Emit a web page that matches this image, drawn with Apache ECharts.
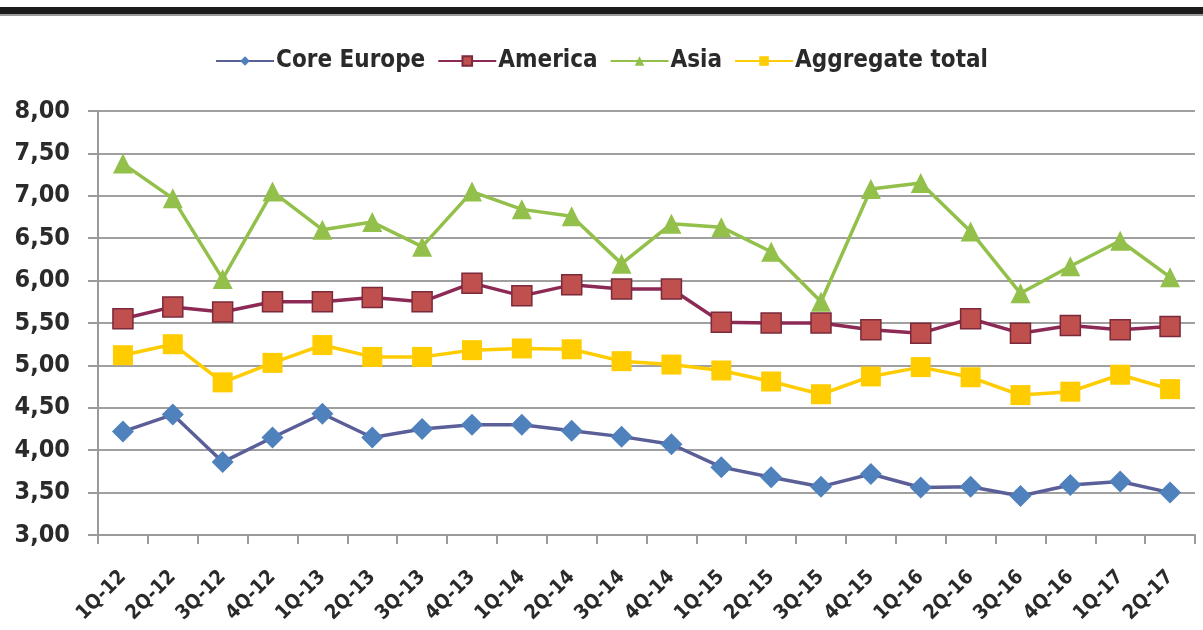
<!DOCTYPE html>
<html>
<head>
<meta charset="utf-8">
<script src="https://cdn.jsdelivr.net/npm/echarts@6/dist/echarts.min.js"></script>
<style>
  html, body { margin: 0; padding: 0; background: #fff; }
  #chart { width: 1203px; height: 630px; }
</style>
</head>
<body>
<div id="chart"></div>
<script>
// Quarterly values by region
const quarters = ['1Q-12','2Q-12','3Q-12','4Q-12','1Q-13','2Q-13','3Q-13','4Q-13','1Q-14','2Q-14','3Q-14','4Q-14','1Q-15','2Q-15','3Q-15','4Q-15','1Q-16','2Q-16','3Q-16','4Q-16','1Q-17','2Q-17'];
const coreEurope = [4.22, 4.42, 3.86, 4.15, 4.43, 4.15, 4.25, 4.30, 4.30, 4.23, 4.16, 4.07, 3.80, 3.68, 3.57, 3.72, 3.56, 3.57, 3.46, 3.59, 3.63, 3.50];
const america    = [5.55, 5.69, 5.63, 5.75, 5.75, 5.80, 5.75, 5.97, 5.82, 5.95, 5.90, 5.90, 5.51, 5.50, 5.50, 5.42, 5.38, 5.55, 5.38, 5.47, 5.42, 5.46];
const asia       = [7.38, 6.97, 6.02, 7.05, 6.60, 6.69, 6.40, 7.05, 6.84, 6.76, 6.20, 6.67, 6.63, 6.34, 5.75, 7.08, 7.15, 6.58, 5.85, 6.17, 6.47, 6.04];
const aggregate  = [5.12, 5.25, 4.80, 5.03, 5.24, 5.10, 5.10, 5.18, 5.20, 5.19, 5.05, 5.01, 4.94, 4.81, 4.66, 4.87, 4.98, 4.86, 4.65, 4.69, 4.89, 4.72];
const seriesNames = ['Core Europe', 'America', 'Asia', 'Aggregate total'];

const font = "'DejaVu Sans Condensed', 'Liberation Sans Narrow', 'DejaVu Sans', sans-serif";

function line(name, data, lineColor, markColor, symbol, size, border) {
  return {
    name: name,
    type: 'line',
    data: data,
    symbol: symbol,
    symbolSize: size,
    showAllSymbol: true,
    lineStyle: { color: lineColor, width: 3.5 },
    itemStyle: { color: markColor, borderColor: border || markColor, borderWidth: border ? 1.5 : 0 },
    emphasis: { disabled: true },
    z: 3
  };
}

const chart = echarts.init(document.getElementById('chart'), null, { renderer: 'canvas' });
chart.setOption({
  animation: false,
  backgroundColor: '#fff',
  graphic: [
    { type: 'rect', shape: { x: 0, y: 7, width: 1203, height: 7 }, style: { fill: '#1b1b1b' }, z: 10 },
    { type: 'rect', shape: { x: 0, y: 14, width: 1203, height: 2 }, style: { fill: '#9a9a9a' }, z: 10 }
  ],
  legend: {
    top: 44,
    left: 'center',
    itemWidth: 58,
    itemHeight: 12,
    itemGap: 12,
    data: seriesNames,
    textStyle: { fontFamily: font, fontSize: 24, fontWeight: 'bold', color: '#2a2a2a', padding: [0, 0, 0, -3] }
  },
  grid: { left: 98, right: 8, top: 111, bottom: 95 },
  xAxis: {
    type: 'category',
    data: quarters,
    boundaryGap: true,
    axisLine: { lineStyle: { color: '#9a9a9a', width: 2 } },
    axisTick: { show: true, length: 9, lineStyle: { color: '#9a9a9a', width: 2 } },
    axisLabel: { interval: 0, rotate: 45, fontFamily: font, fontSize: 20, fontWeight: 'bold', color: '#2a2a2a', margin: 39 },
    splitLine: { show: false }
  },
  yAxis: {
    type: 'value',
    min: 3,
    max: 8,
    interval: 0.5,
    axisLine: { show: true, lineStyle: { color: '#9a9a9a', width: 2 } },
    axisTick: { show: true, length: 10, lineStyle: { color: '#9a9a9a', width: 2 } },
    axisLabel: {
      fontFamily: font,
      fontSize: 25,
      fontWeight: 'bold',
      color: '#2a2a2a',
      margin: 28,
      formatter: v => v.toFixed(2).replace('.', ',')
    },
    splitLine: { lineStyle: { color: '#a0a0a0', width: 2 } }
  },
  series: [
    line('Core Europe', coreEurope, '#5b5f98', '#4f81bd', 'diamond', 22),
    line('America', america, '#8c2a55', '#c0504d', 'rect', 20, '#7a2a3a'),
    line('Asia', asia, '#92c04a', '#92c04a', 'triangle', 20),
    line('Aggregate total', aggregate, '#ffcc00', '#ffcc00', 'rect', 20)
  ]
});
</script>
</body>
</html>
